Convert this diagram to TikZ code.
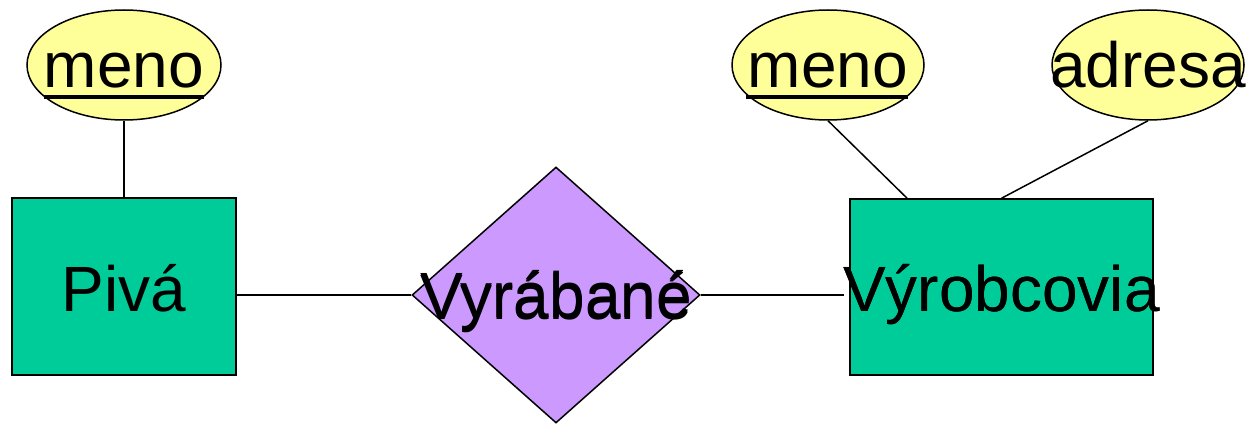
\documentclass[tikz,border=0pt]{standalone}
\usepackage{fontspec}
\setmainfont{Liberation Sans}
\usetikzlibrary{shapes.geometric,calc}
\definecolor{entgreen}{HTML}{00CC99}
\definecolor{relpurple}{HTML}{CC99FF}
\definecolor{attyellow}{HTML}{FFFF99}
\tikzset{
  every node/.style={font=\fontsize{64}{76}\selectfont, inner sep=0pt, text height=45pt, text depth=0pt},
  attr/.style={ellipse, draw, line width=1.5pt, fill=attyellow, minimum width=194pt, minimum height=110pt},
  entity/.style={rectangle, draw, line width=1.5pt, fill=entgreen, text height=49pt},
  rel/.style={diamond, draw, line width=1.5pt, fill=relpurple, minimum width=288pt, minimum height=256pt, text height=48pt},
  conn/.style={line width=1.5pt},
  keyline/.style={line width=4pt}
}
\begin{document}
\begin{tikzpicture}[x=1pt,y=-1pt]
\useasboundingbox (0,0) rectangle (1249,425);
% attributes
\node[attr] (m1) at (124,65) {\makebox[0pt]{meno}};
\node[attr, minimum width=192pt] (m2) at (828,65) {\makebox[0pt]{meno}};
\node[attr, minimum width=192pt] (adr) at (1148,65) {\makebox[0pt]{adresa}};
% entities
\node[entity, minimum width=224pt, minimum height=177pt] (piva) at (124,286.5) {\makebox[0pt]{Pivá}};
\node[entity, minimum width=303pt, minimum height=176pt] (vyr) at (1001.5,287) {\makebox[0pt]{Výrobcovia}};
% relationship
\node[rel] (rel) at (556,295) {\makebox[0pt]{Vyrábané}};
% key underlines
\draw[keyline] ($(m1.center)+(-80,32)$) -- ($(m1.center)+(80,32)$);
\draw[keyline] ($(m2.center)+(-82,32)$) -- ($(m2.center)+(80,32)$);
% connectors
\coordinate (vyrA) at ($(vyr.north west)!0.19!(vyr.north east)$);
\coordinate (vyrL) at ($(rel.east -| vyr.west)+(-5,0)$);
\draw[conn] (m1.south) -- (piva.north);
\draw[conn] (m2.south) -- (vyrA);
\draw[conn] (adr.south) -- (vyr.north);
\draw[conn] (rel.west -| piva.east) -- (rel.west);
\draw[conn] (rel.east) -- (vyrL);
% redraw overflowing labels on top
\node at (rel.center) {\makebox[0pt]{Vyrábané}};
\node at (vyr.center) [text height=49pt] {\makebox[0pt]{Výrobcovia}};
\end{tikzpicture}
\end{document}
